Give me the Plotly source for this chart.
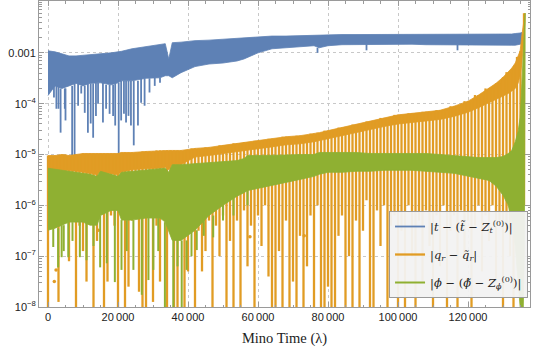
import numpy as np
import plotly.graph_objects as go

# ---------------- data (log10 of the errors) ----------------
env_lambda = [0, 2000, 4000, 6000, 8000, 10000, 12000, 14000, 15000, 18000,
              20000, 21000, 24000, 28000, 32000, 33500, 34500, 35500, 38000, 42000,
              46000, 50000, 54000, 56000, 57000, 60000, 64000, 68000, 72000, 76000,
              77500, 80000, 84000, 88000, 92000, 96000, 100000, 104000, 108000, 112000,
              116000, 120000, 123000, 126000, 128000, 130000, 131500, 132500, 133500, 134300,
              134900, 135400, 135800, 136100, 136300]

# |t - (t~ - Z_t)| : upper envelope and lower edge of the dense band (log10)
t_hi_log10 = [-2.96, -2.98, -3.02, -3.06, -3.06, -3.05, -3.04, -3.03, -3.02, -3.00,
              -2.98, -2.97, -2.92, -2.88, -2.84, -2.82, -3.12, -2.80, -2.79, -2.76,
              -2.75, -2.73, -2.72, -2.71, -2.70, -2.69, -2.67, -2.67, -2.66, -2.66,
              -2.65, -2.65, -2.64, -2.64, -2.64, -2.63, -2.63, -2.63, -2.63, -2.63,
              -2.63, -2.64, -2.64, -2.63, -2.64, -2.64, -2.64, -2.63, -2.62, -2.62,
              -2.61, -2.60]
t_core_log10 = [-3.84, -3.65, -3.70, -3.65, -3.60, -3.65, -3.60, -3.59, -3.59, -3.63,
                -3.59, -3.55, -3.55, -3.50, -3.49, -3.45, -3.45, -3.49, -3.39, -3.27,
                -3.22, -3.20, -3.16, -3.12, -3.10, -3.00, -2.92, -2.90, -2.88, -2.86,
                -2.90, -2.86, -2.84, -2.83, -2.83, -2.83, -2.83, -2.83, -2.84, -2.84,
                -2.84, -2.85, -2.85, -2.85, -2.84, -2.84, -2.85, -2.85, -2.85, -2.84,
                -2.83, -2.82]

# |q_r - q~_r|
q_hi_log10 = [-5.02, -5.02, -5.00, -5.02, -5.00, -4.98, -4.98, -4.98, -4.98, -4.98,
              -4.98, -4.96, -4.96, -4.94, -4.92, -4.92, -4.92, -4.92, -4.92, -4.88,
              -4.86, -4.82, -4.78, -4.76, -4.76, -4.73, -4.69, -4.65, -4.63, -4.59,
              -4.57, -4.53, -4.47, -4.41, -4.35, -4.28, -4.22, -4.19, -4.16, -4.13,
              -4.05, -3.95, -3.83, -3.70, -3.60, -3.48, -3.38, -3.30, -3.20, -3.08,
              -2.96, -2.65, -2.40, -2.22, -2.22]
q_core_log10 = [-5.30, -5.30, -5.30, -5.32, -5.33, -5.35, -5.37, -5.40, -5.35, -5.38,
                -5.40, -5.35, -5.30, -5.28, -5.27, -5.25, -5.30, -5.20, -5.20, -5.05,
                -5.02, -4.98, -4.94, -4.92, -4.92, -4.89, -4.85, -4.81, -4.79, -4.75,
                -4.73, -4.69, -4.63, -4.57, -4.51, -4.45, -4.40, -4.37, -4.34, -4.31,
                -4.25, -4.17, -4.08, -3.98, -3.92, -3.85, -3.80, -3.75, -3.70, -3.60,
                -3.45, -3.20, -2.90, -2.60, -2.40]

# |phi - (phi~ - Z_phi)|
p_hi_log10 = [-5.27, -5.29, -5.31, -5.33, -5.35, -5.37, -5.39, -5.43, -5.33, -5.39,
              -5.43, -5.35, -5.33, -5.31, -5.29, -5.27, -5.35, -5.20, -5.20, -5.18,
              -5.16, -5.14, -5.12, -5.08, -5.02, -5.02, -5.02, -5.01, -5.00, -5.00,
              -4.96, -4.96, -4.96, -4.96, -4.98, -4.98, -4.98, -4.98, -4.98, -5.00,
              -5.02, -5.04, -5.06, -5.06, -5.06, -5.04, -4.98, -4.92, -4.75, -4.55,
              -4.27, -3.60, -3.00, -2.55, -2.22]
p_core_log10 = [-6.49, -6.45, -6.39, -6.33, -6.33, -6.33, -6.39, -6.39, -6.20, -6.10,
                -6.10, -6.29, -6.29, -6.25, -6.25, -6.33, -6.49, -6.69, -6.69, -6.49,
                -6.20, -6.00, -5.82, -5.75, -5.71, -5.67, -5.61, -5.55, -5.49, -5.43,
                -5.39, -5.35, -5.35, -5.33, -5.33, -5.31, -5.31, -5.31, -5.33, -5.35,
                -5.37, -5.43, -5.47, -5.51, -5.62, -5.80, -6.00, -6.30, -6.80, -7.50,
                -8.00, -8.00, -8.00, -7.00, -3.00]

# downward spikes below the dense bands
t_spike_lambda = [1700, 2400, 3000, 3600, 4800, 5000, 6900, 7600, 8600, 9500,
                  10500, 11400, 12200, 12900, 13700, 14300, 15700, 16600, 17600, 18600,
                  19200, 20200, 20900, 21700, 22300, 23000, 23700, 24500, 25700, 26600,
                  27600, 29000, 30500, 32000, 77000, 91000, 117000]
t_spike_log10 = [-3.88, -4.10, -4.10, -4.57, -4.10, -4.33, -5.02, -5.02, -4.04, -3.80,
                 -4.18, -4.57, -4.39, -4.67, -4.24, -4.00, -4.37, -4.10, -4.20, -4.24,
                 -4.43, -4.98, -4.33, -4.20, -4.37, -4.24, -4.43, -4.82, -4.43, -3.98,
                 -4.04, -3.78, -3.65, -3.59, -3.00, -2.95, -2.95]

q_spike_lambda = list(range(0, 136001, 1000))
q_spike_log10 = [-8.0, -6.0, -5.9, -7.9, -6.3, -6.1, -7.1, -6.2, -8.0, -6.4,
                 -6.9, -7.5, -6.1, -8.0, -6.7, -6.0, -8.0, -7.5, -6.2, -6.4,
                 -8.0, -6.1, -8.0, -7.6, -6.3, -6.0, -7.7, -8.0, -8.0, -6.2,
                 -7.9, -6.4, -7.5, -6.1, -8.0, -6.5, -8.0, -8.0, -6.6, -8.0,
                 -7.3, -6.4, -8.0, -6.5, -7.3, -6.9, -6.3, -8.0, -6.4, -7.0,
                 -6.2, -8.0, -6.7, -8.0, -6.3, -8.0, -6.1, -7.2, -6.4, -8.0,
                 -6.2, -6.8, -6.0, -7.4, -8.0, -8.0, -6.9, -8.0, -6.3, -8.0,
                 -7.5, -8.0, -6.6, -8.0, -7.2, -6.2, -8.0, -6.0, -8.0, -8.0,
                 -7.6, -8.0, -8.0, -6.6, -6.2, -8.0, -7.0, -8.0, -6.3, -8.0,
                 -6.5, -5.9, -8.0, -8.0, -6.1, -6.8, -6.0, -8.0, -6.4, -6.2,
                 -8.0, -6.5, -8.0, -6.0, -7.0, -8.0, -6.3, -7.5, -6.1, -6.8,
                 -8.0, -6.2, -7.2, -6.0, -8.0, -6.5, -6.2, -8.0, -6.1, -7.0,
                 -6.3, -8.0, -6.4, -6.0, -7.3, -6.2, -6.7, -6.0, -7.5, -6.3,
                 -8.0, -6.5, -7.0, -8.0, -6.5, -7.0, -6.0]

p_spike_lambda = [1500, 2900, 3900, 4500, 5800, 7000, 9100, 11000, 13000, 14900,
                  16800, 19100, 21000, 22500, 24400, 26800, 28700, 30100, 31500, 33400,
                  35800, 37000, 38200, 39600, 41000, 42500, 44500, 47200, 50000, 53000,
                  57000]
p_spike_log10 = [-6.82, -7.22, -7.02, -6.90, -7.02, -6.70, -7.02, -7.08, -6.80, -7.22,
                 -7.14, -7.51, -7.27, -6.90, -7.27, -7.76, -7.47, -7.27, -6.90, -8.00,
                 -8.00, -7.20, -8.00, -7.27, -7.00, -6.88, -6.60, -6.63, -6.30, -6.20,
                 -6.00]

q_dot_lambda = [1800, 2300, 14400, 57700, 73200]
q_dot_log10 = [-7.50, -7.27, -6.49, -6.62, -6.60]

x_ticks = [0, 20000, 40000, 60000, 80000, 100000, 120000]
x_tick_labels = ["0", "20\u2009000", "40\u2009000", "60\u2009000", "80\u2009000",
                 "100\u2009000", "120\u2009000"]
y_ticks = [1e-8, 1e-7, 1e-6, 1e-5, 1e-4, 1e-3]
y_tick_labels = ["10<sup>\u22128</sup>", "10<sup>\u22127</sup>", "10<sup>\u22126</sup>",
                 "10<sup>\u22125</sup>", "10<sup>\u22124</sup>", "0.001"]

names = ["|<i>t</i> \u2212 (<i>t\u0303</i> \u2212 <i>Z</i><sub><i>t</i></sub><sup>(0)</sup>)|",
         "|<i>q<sub>r</sub></i> \u2212 <i>q\u0303<sub>r</sub></i>|",
         "|<i>\u03d5</i> \u2212 (<i>\u03d5\u0303</i> \u2212 <i>Z</i><sub><i>\u03d5</i></sub><sup>(0)</sup>)|"]
colors = ["#5E81B5", "#E19C24", "#8FB032"]

# ---------------- build traces ----------------
env = np.array(env_lambda, dtype=float)


def band(hi, core, color):
    n = len(hi)
    xs = list(env[:n]) + list(env[:n][::-1])
    ys = list(10.0 ** np.array(hi)) + list((10.0 ** np.array(core))[::-1])
    return go.Scatter(x=xs, y=ys, mode="lines", fill="toself", fillcolor=color,
                      line=dict(color=color, width=0.8), showlegend=False,
                      hoverinfo="skip")


def spikes(lams, depths, tops, color, name, width):
    n = len(tops)
    xs, ys = [], []
    for lam, d in zip(lams, depths):
        i = int(np.abs(env[:n] - lam).argmin())
        xs += [lam, lam, None]
        ys += [10.0 ** tops[i], 10.0 ** d, None]
    return go.Scatter(x=xs, y=ys, mode="lines", line=dict(color=color, width=width),
                      name=name, showlegend=True, hoverinfo="skip",
                      legendgroup=name)


fig = go.Figure()
fig.add_trace(band(t_hi_log10, t_core_log10, colors[0]))
fig.add_trace(spikes(t_spike_lambda, t_spike_log10, t_core_log10, colors[0], names[0], 1.8))
fig.add_trace(band(q_hi_log10, q_core_log10, colors[1]))
fig.add_trace(spikes(q_spike_lambda, q_spike_log10, q_hi_log10, colors[1], names[1], 2.3))
fig.add_trace(go.Scatter(x=q_dot_lambda, y=list(10.0 ** np.array(q_dot_log10)), mode="markers",
                         marker=dict(color=colors[1], size=3.5), showlegend=False,
                         hoverinfo="skip"))
fig.add_trace(band(p_hi_log10, p_core_log10, colors[2]))
fig.add_trace(spikes(p_spike_lambda, p_spike_log10, p_core_log10, colors[2], names[2], 2.0))

axis_col = "#9a9a9a"
grid_col = "#c8c8c8"
tick_font = dict(family="Liberation Sans, Arial, sans-serif", size=11, color="#222")

fig.update_layout(
    width=538, height=354,
    margin=dict(l=39, r=8, t=1, b=47),
    paper_bgcolor="white", plot_bgcolor="white",
    showlegend=True,
    legend=dict(x=0.996, y=0.3137, xanchor="right", yanchor="top",
                bgcolor="rgba(242,242,242,0.95)", bordercolor="#9a9a9a", borderwidth=1,
                font=dict(family="DejaVu Serif, Liberation Serif, serif", size=11.5, color="#222"),
                tracegroupgap=9, itemwidth=30),
    xaxis=dict(range=[-2571, 137714], tickmode="array", tickvals=x_ticks,
               ticktext=x_tick_labels, tickfont=tick_font, automargin=False,
               showline=True, linecolor=axis_col, linewidth=1, mirror="allticks",
               ticks="inside", ticklen=5, tickcolor=axis_col,
               minor=dict(dtick=5000, tick0=0, ticks="inside", ticklen=2.5,
                          tickcolor=axis_col, showgrid=False),
               showgrid=True, gridcolor=grid_col, griddash="dot", gridwidth=1,
               zeroline=False,
               title=dict(text="Mino Time (\u03bb)", standoff=10,
                          font=dict(family="Liberation Serif, DejaVu Serif, serif",
                                    size=14.5, color="#222"))),
    yaxis=dict(type="log", range=[-8, -1.98], tickmode="array", tickvals=y_ticks,
               ticktext=y_tick_labels, tickfont=tick_font, automargin=False,
               showline=True, linecolor=axis_col, linewidth=1, mirror="allticks",
               ticks="inside", ticklen=5, tickcolor=axis_col,
               minor=dict(dtick="D1", ticks="inside", ticklen=2.5, tickcolor=axis_col,
                          showgrid=False),
               showgrid=True, gridcolor=grid_col, griddash="dot", gridwidth=1,
               zeroline=False),
)

fig.write_html("out.html", config={"displayModeBar": False},
               post_script="document.body.style.margin='0';")
